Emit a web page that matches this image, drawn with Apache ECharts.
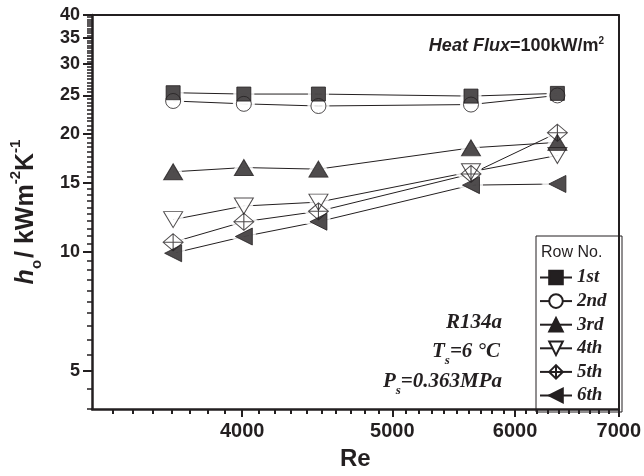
<!DOCTYPE html>
<html><head><meta charset="utf-8">
<script src="https://cdn.jsdelivr.net/npm/echarts@6/dist/echarts.min.js"></script>
<style>html,body{margin:0;padding:0;background:#fff}#c{width:644px;height:476px}</style>
</head><body><div id="c"></div>
<script>
// ---- data ----
const reValues = [3610, 4010, 4480, 5620, 6390];
const row1st = [25.4, 25.2, 25.2, 24.9, 25.3];
const row2nd = [24.2, 23.8, 23.5, 23.7, 25.0];
const row3rd = [16.0, 16.4, 16.25, 18.4, 19.0];
const row4th = [12.1, 13.1, 13.4, 16.0, 17.6];
const row5th = [10.6, 11.95, 12.7, 15.8, 20.1];
const row6th = [9.94, 10.96, 11.95, 14.8, 14.9];
const rowNames = ['1st', '2nd', '3rd', '4th', '5th', '6th'];
const xTickLabels = [4000, 5000, 6000, 7000];
const yTickLabels = [5, 10, 15, 20, 25, 30, 35, 40];
const xMinorTicks = [];
for (let v = 3300; v <= 7000; v += 100) xMinorTicks.push(v);
const yMinorTicks = [];
for (let v = 4; v <= 40; v += 0.5) yMinorTicks.push(v);

const INK = '#231f20';
const rows = [row1st, row2nd, row3rd, row4th, row5th, row6th];
const DIAMOND = 'path://M10,0 L20,10 L10,20 L0,10 Z M10,0 L10,20 M0,10 L20,10';
const styles = [
  { symbol: 'rect', size: [14, 14], rotate: 0, fill: INK },
  { symbol: 'circle', size: [15, 15], rotate: 0, fill: 'transparent' },
  { symbol: 'triangle', size: [19, 16], rotate: 0, fill: INK },
  { symbol: 'triangle', size: [19, 16], rotate: 180, fill: 'transparent' },
  { symbol: DIAMOND, size: [20, 17], rotate: 0, fill: 'transparent' },
  { symbol: 'triangle', size: [17, 17], rotate: 90, fill: INK }
];

const pts = r => reValues.map((x, i) => [x, r[i]]);
const series = [];
// lines (also feed the legend)
rows.forEach((r, k) => {
  const s = styles[k];
  series.push({
    name: rowNames[k], type: 'line', data: pts(r),
    xAxisIndex: 0, yAxisIndex: 0,
    symbol: s.symbol, symbolSize: s.size, symbolRotate: s.rotate, showSymbol: false,
    lineStyle: { color: INK, width: 1 },
    itemStyle: { color: s.fill === 'transparent' ? '#fff' : INK, borderColor: INK, borderWidth: 1 },
    silent: true, z: 2
  });
});
// white halos that make gaps between lines and markers
rows.forEach((r, k) => {
  const s = styles[k];
  series.push({
    type: 'scatter', data: pts(r), xAxisIndex: 0, yAxisIndex: 0,
    symbol: s.symbol, symbolSize: s.size, symbolRotate: s.rotate,
    itemStyle: { color: '#fff', borderColor: '#fff', borderWidth: 7 },
    silent: true, z: 3
  });
});
// markers (drawn 6th first so 1st lies on top)
for (let k = rows.length - 1; k >= 0; k--) {
  const s = styles[k];
  series.push({
    name: rowNames[k], type: 'scatter', data: pts(rows[k]), xAxisIndex: 0, yAxisIndex: 0,
    symbol: s.symbol, symbolSize: s.size, symbolRotate: s.rotate,
    itemStyle: { color: s.fill, borderColor: INK, borderWidth: 1 },
    silent: true, z: 4
  });
}

const chart = echarts.init(document.getElementById('c'), null, { renderer: 'canvas' });
const labelFont = { color: INK, fontWeight: 'bold', fontFamily: 'Liberation Sans' };
const xBase = { type: 'log', logBase: 10, min: 3200, max: 7000, gridIndex: 0, splitLine: { show: false } };
const yBase = { type: 'log', logBase: 10, min: 4, max: 40, gridIndex: 0, splitLine: { show: false } };

chart.setOption({
  animation: false,
  backgroundColor: '#fff',
  grid: { left: 90, right: 22, top: 15, bottom: 64 },
  xAxis: [
    Object.assign({}, xBase, {
      position: 'bottom',
      axisLine: { show: true, lineStyle: { color: INK, width: 2.5 } },
      axisTick: { show: true, customValues: xTickLabels, length: 8, lineStyle: { color: INK, width: 2 } },
      axisLabel: Object.assign({ show: true, customValues: xTickLabels, formatter: v => String(Math.round(v)), fontSize: 20, margin: 12 }, labelFont),
      name: 'Re', nameLocation: 'middle', nameGap: 38,
      nameTextStyle: Object.assign({ fontSize: 24 }, labelFont)
    }),
    Object.assign({}, xBase, {
      position: 'bottom',
      axisLine: { show: false },
      axisTick: { show: true, customValues: xMinorTicks, length: 5, lineStyle: { color: INK, width: 2 } },
      axisLabel: { show: false }
    }),
    Object.assign({}, xBase, {
      position: 'top',
      axisLine: { show: true, lineStyle: { color: INK, width: 2 } },
      axisTick: { show: false }, axisLabel: { show: false }
    })
  ],
  yAxis: [
    Object.assign({}, yBase, {
      position: 'left',
      axisLine: { show: true, lineStyle: { color: INK, width: 2.5 } },
      axisTick: { show: true, customValues: yTickLabels, length: 9, lineStyle: { color: INK, width: 2 } },
      axisLabel: Object.assign({ show: true, customValues: yTickLabels, formatter: v => String(Math.round(v)), fontSize: 18, margin: 12 }, labelFont),
      name: '{hi|h}{sub|o}{n|/ kWm}{sup|-2}{n|K}{sup|-1}',
      nameLocation: 'middle', nameGap: 52,
      nameTextStyle: {
        color: INK,
        rich: {
          hi: { fontSize: 25, fontWeight: 'bold', fontStyle: 'italic', fontFamily: 'Liberation Sans', color: INK, lineHeight: 28 },
          n: { fontSize: 25, fontWeight: 'bold', fontFamily: 'Liberation Sans', color: INK, lineHeight: 28 },
          sub: { fontSize: 15, fontWeight: 'bold', fontFamily: 'Liberation Sans', color: INK, lineHeight: 14, verticalAlign: 'bottom', padding: [0, 2, -4, 0] },
          sup: { fontSize: 15, fontWeight: 'bold', fontFamily: 'Liberation Sans', color: INK, lineHeight: 14, verticalAlign: 'top', padding: [-4, 0, 0, 0] }
        }
      }
    }),
    Object.assign({}, yBase, {
      position: 'left',
      axisLine: { show: false },
      axisTick: { show: true, customValues: yMinorTicks, length: 5, lineStyle: { color: INK, width: 1.5 } },
      axisLabel: { show: false }
    }),
    Object.assign({}, yBase, {
      position: 'right',
      axisLine: { show: true, lineStyle: { color: INK, width: 2 } },
      axisTick: { show: false }, axisLabel: { show: false }
    })
  ],
  legend: {
    orient: 'vertical', left: 534, top: 263,
    itemWidth: 32, itemHeight: 17, itemGap: 4.6,
    data: rowNames.map(n => ({ name: n })),
    selectedMode: false,
    textStyle: { color: INK, fontSize: 19, fontWeight: 'bold', fontStyle: 'italic', fontFamily: 'Liberation Serif', padding: [0, 0, 0, 0] }
  },
  graphic: [
    { type: 'rect', z: 10, shape: { x: 536, y: 236, width: 86, height: 176 }, style: { fill: 'transparent', stroke: INK, lineWidth: 1 } },
    { type: 'text', z: 11, x: 541, y: 253, style: { text: 'Row No.', fill: INK, font: '16px "Liberation Sans"', verticalAlign: 'middle' } },
    { type: 'text', z: 11, x: 604, y: 46, style: {
        text: '{i|Heat Flux}{b|=100kW/m}{s|2}', align: 'right', verticalAlign: 'middle',
        rich: {
          i: { fontSize: 18, fontWeight: 'bold', fontStyle: 'italic', fontFamily: 'Liberation Sans', fill: INK, lineHeight: 20 },
          b: { fontSize: 18, fontWeight: 'bold', fontFamily: 'Liberation Sans', fill: INK, lineHeight: 20 },
          s: { fontSize: 10, fontWeight: 'bold', fontFamily: 'Liberation Sans', fill: INK, lineHeight: 10, verticalAlign: 'top' }
        } } },
    { type: 'text', z: 11, x: 502, y: 323, style: { text: 'R134a', align: 'right', verticalAlign: 'middle', fill: INK, font: 'italic bold 21px "Liberation Serif"' } },
    { type: 'text', z: 11, x: 500, y: 352, style: {
        text: '{m|T}{s|s}{m|=6 °C}', align: 'right', verticalAlign: 'middle',
        rich: {
          m: { fontSize: 21, fontWeight: 'bold', fontStyle: 'italic', fontFamily: 'Liberation Serif', fill: INK, lineHeight: 24 },
          s: { fontSize: 13, fontWeight: 'bold', fontStyle: 'italic', fontFamily: 'Liberation Serif', fill: INK, lineHeight: 12, verticalAlign: 'bottom', padding: [0, 0, -3, 0] }
        } } },
    { type: 'text', z: 11, x: 502, y: 382, style: {
        text: '{m|P}{s|s}{m|=0.363MPa}', align: 'right', verticalAlign: 'middle',
        rich: {
          m: { fontSize: 21, fontWeight: 'bold', fontStyle: 'italic', fontFamily: 'Liberation Serif', fill: INK, lineHeight: 24 },
          s: { fontSize: 13, fontWeight: 'bold', fontStyle: 'italic', fontFamily: 'Liberation Serif', fill: INK, lineHeight: 12, verticalAlign: 'bottom', padding: [0, 0, -3, 0] }
        } } }
  ],
  series: series
});
</script>
</body></html>
